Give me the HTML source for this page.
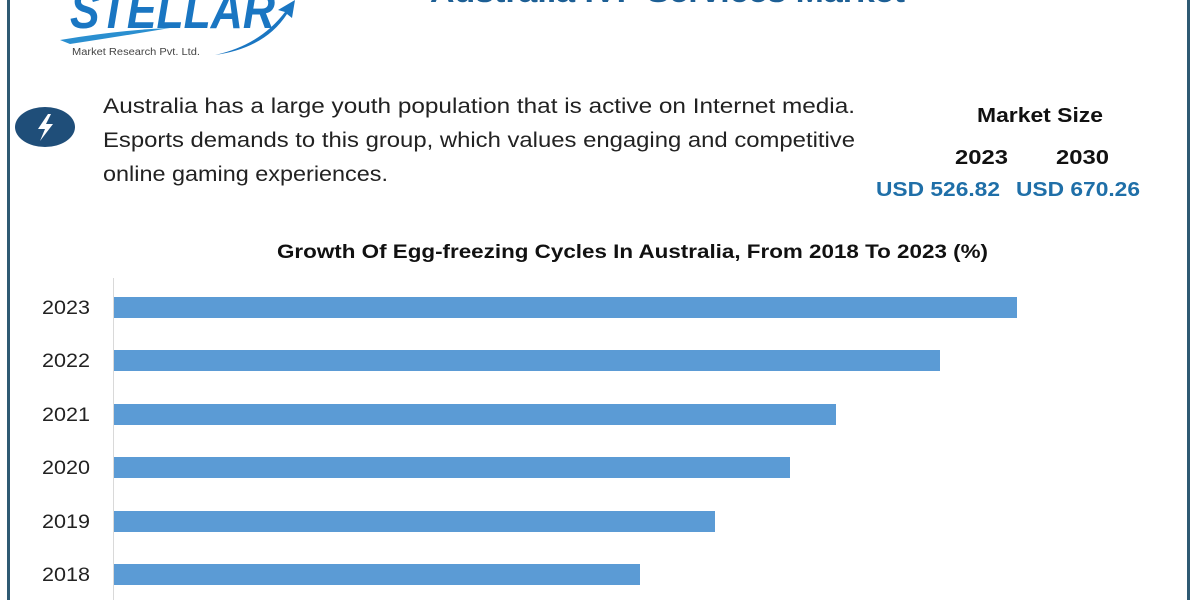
<!DOCTYPE html>
<html><head><meta charset="utf-8"><style>
html,body{margin:0;padding:0;background:#fff;}
svg{display:block;font-family:"Liberation Sans",sans-serif;}
</style></head><body>
<svg width="1200" height="600" viewBox="0 0 1200 600">
<rect width="1200" height="600" fill="#fff"/>
<rect x="7" y="0" width="3" height="600" fill="#2e5a73"/>
<rect x="1187" y="0" width="3" height="600" fill="#2e5a73"/>
<text x="430" y="2" font-size="30" font-weight="bold" fill="#1d5f95" textLength="475" lengthAdjust="spacingAndGlyphs">Australia IVF Services Market</text>
<path d="M60 40 Q120 30 170 28 Q110 38 70 44 Z" fill="#2a8fd0"/>
<text x="70" y="28" font-size="52" font-style="italic" font-weight="bold" fill="#1a76c2" textLength="205" lengthAdjust="spacingAndGlyphs">STELLAR</text>
<path d="M215 55 Q260 45 285 12 L278 10 L295 0 L292 18 L287 14 Q265 48 215 55 Z" fill="#1a76c2"/>
<text x="72" y="55" font-size="10" fill="#444" textLength="128" lengthAdjust="spacingAndGlyphs">Market Research Pvt. Ltd.</text>
<ellipse cx="45" cy="127" rx="30" ry="20" fill="#1f4e79"/>
<path d="M48 114 L38 129 L45 129 L40 141 L53 124 L46 124 L51 114 Z" fill="#fff"/>
<g font-size="21" fill="#222">
<text x="103" y="113" textLength="752" lengthAdjust="spacingAndGlyphs">Australia has a large youth population that is active on Internet media.</text>
<text x="103" y="147" textLength="752" lengthAdjust="spacingAndGlyphs">Esports demands to this group, which values engaging and competitive</text>
<text x="103" y="181" textLength="285" lengthAdjust="spacingAndGlyphs">online gaming experiences.</text>
</g>
<g font-weight="bold" font-size="20" fill="#111">
<text x="977" y="122" textLength="126" lengthAdjust="spacingAndGlyphs">Market Size</text>
<text x="955" y="164" textLength="53" lengthAdjust="spacingAndGlyphs">2023</text>
<text x="1056" y="164" textLength="53" lengthAdjust="spacingAndGlyphs">2030</text>
</g>
<g font-weight="bold" font-size="20" fill="#1f6fa8">
<text x="876" y="196" textLength="124" lengthAdjust="spacingAndGlyphs">USD 526.82</text>
<text x="1016" y="196" textLength="124" lengthAdjust="spacingAndGlyphs">USD 670.26</text>
</g>
<text x="277" y="258" font-size="19" font-weight="bold" fill="#111" textLength="711" lengthAdjust="spacingAndGlyphs">Growth Of Egg-freezing Cycles In Australia, From 2018 To 2023 (%)</text>
<line x1="113.5" y1="278" x2="113.5" y2="600" stroke="#d9d9d9" stroke-width="1"/>
<g fill="#5b9bd5">
<rect x="114" y="297" width="903" height="21"/>
<rect x="114" y="350" width="826" height="21"/>
<rect x="114" y="404" width="722" height="21"/>
<rect x="114" y="457" width="676" height="21"/>
<rect x="114" y="511" width="601" height="21"/>
<rect x="114" y="564" width="526" height="21"/>
</g>
<g font-size="19" fill="#222">
<text x="42" y="314" textLength="48" lengthAdjust="spacingAndGlyphs">2023</text>
<text x="42" y="367" textLength="48" lengthAdjust="spacingAndGlyphs">2022</text>
<text x="42" y="421" textLength="48" lengthAdjust="spacingAndGlyphs">2021</text>
<text x="42" y="474" textLength="48" lengthAdjust="spacingAndGlyphs">2020</text>
<text x="42" y="528" textLength="48" lengthAdjust="spacingAndGlyphs">2019</text>
<text x="42" y="581" textLength="48" lengthAdjust="spacingAndGlyphs">2018</text>
</g>
</svg>
</body></html>
